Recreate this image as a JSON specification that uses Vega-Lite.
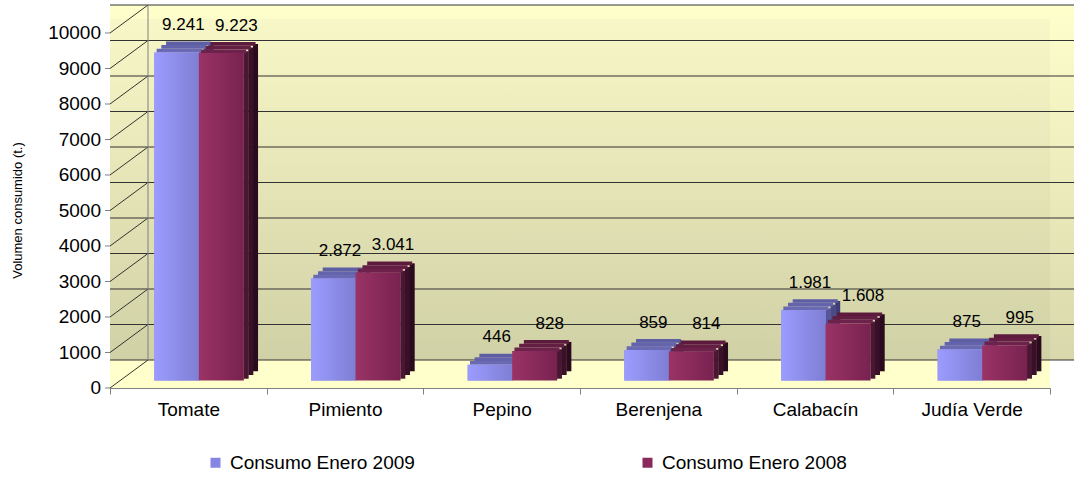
{
  "$schema": "https://vega.github.io/schema/vega-lite/v6.json",
  "width": 940,
  "height": 355,
  "autosize": {"type": "none"},
  "padding": {"left": 110, "top": 33, "right": 24, "bottom": 89},
  "background": "white",
  "config": {
    "view": {"stroke": null},
    "font": "Liberation Sans",
    "axisY": {
      "labels": false, "ticks": false, "grid": false,
      "domainColor": "#808080",
      "titleFontSize": 13, "titleFontWeight": "normal", "titleColor": "black",
      "titleX": -93, "titleY": 177, "titleAngle": -90,
      "titleAlign": "center", "titleBaseline": "middle"
    },
    "axisX": {
      "labelAngle": 0, "grid": false, "labelOverlap": false,
      "domainColor": "#808080", "tickColor": "#808080", "tickSize": 6, "tickBand": "extent",
      "labelFontSize": 19, "labelColor": "black", "labelPadding": 6
    }
  },
  "datasets": {
    "bars": [
      {"cat": "Tomate", "series": "Consumo Enero 2009", "value": 9241, "label": "9.241"},
      {"cat": "Tomate", "series": "Consumo Enero 2008", "value": 9223, "label": "9.223"},
      {"cat": "Pimiento", "series": "Consumo Enero 2009", "value": 2872, "label": "2.872"},
      {"cat": "Pimiento", "series": "Consumo Enero 2008", "value": 3041, "label": "3.041"},
      {"cat": "Pepino", "series": "Consumo Enero 2009", "value": 446, "label": "446"},
      {"cat": "Pepino", "series": "Consumo Enero 2008", "value": 828, "label": "828"},
      {"cat": "Berenjena", "series": "Consumo Enero 2009", "value": 859, "label": "859"},
      {"cat": "Berenjena", "series": "Consumo Enero 2008", "value": 814, "label": "814"},
      {"cat": "Calabacín", "series": "Consumo Enero 2009", "value": 1981, "label": "1.981"},
      {"cat": "Calabacín", "series": "Consumo Enero 2008", "value": 1608, "label": "1.608"},
      {"cat": "Judía Verde", "series": "Consumo Enero 2009", "value": 875, "label": "875"},
      {"cat": "Judía Verde", "series": "Consumo Enero 2008", "value": 995, "label": "995"}
    ],
    "grid": [
      {"v": 0}, {"v": 1000}, {"v": 2000}, {"v": 3000}, {"v": 4000}, {"v": 5000},
      {"v": 6000}, {"v": 7000}, {"v": 8000}, {"v": 9000}, {"v": 10000}
    ],
    "one": [{"k": 1}]
  },
  "data": {"name": "bars"},
  "layer": [
    {
      "data": {"name": "one"},
      "mark": {
        "type": "rect",
        "yOffset": -28, "y2Offset": -28, "xOffset": 38, "x2Offset": 60,
        "color": {"gradient": "linear", "x1": 0, "y1": 0, "x2": 0, "y2": 1,
          "stops": [{"offset": 0, "color": "#FFFFCC"}, {"offset": 1, "color": "#D8D8AC"}]}
      },
      "encoding": {
        "y": {"datum": 0, "type": "quantitative", "title": "Volumen consumido (t.)",
          "scale": {"domain": [0, 10000], "nice": false, "zero": true}},
        "y2": {"datum": 10000}
      }
    },
    {
      "data": {"name": "one"},
      "mark": {
        "type": "rect",
        "yOffset": -14, "y2Offset": -14, "x2Offset": -902,
        "color": {"gradient": "linear", "x1": 0, "y1": 0, "x2": 0, "y2": 1,
          "stops": [{"offset": 0, "color": "#F7F7C7"}, {"offset": 1, "color": "#CFCFA5"}]}
      },
      "encoding": {
        "y": {"datum": 10000, "type": "quantitative", "title": "Volumen consumido (t.)"},
        "y2": {"datum": 0}
      }
    },
    {
      "data": {"name": "one"},
      "mark": {"type": "rect", "y2Offset": -28, "x2Offset": 60, "color": "#FFFFCC"},
      "encoding": {
        "y": {"datum": 0, "type": "quantitative", "title": "Volumen consumido (t.)"},
        "y2": {"datum": 0}
      }
    },
    {
      "data": {"name": "grid"},
      "mark": {"type": "rule", "yOffset": -28, "xOffset": 38, "x2Offset": 60, "color": "#333333", "strokeWidth": 1},
      "encoding": {
        "y": {"field": "v", "type": "quantitative", "title": "Volumen consumido (t.)"}
      }
    },
    {
      "data": {"name": "grid"},
      "mark": {"type": "rule", "x2Offset": 38, "y2Offset": -28, "color": "#333333", "strokeWidth": 1},
      "encoding": {
        "x": {"datum": "Tomate", "type": "nominal", "bandPosition": 0},
        "x2": {"datum": "Tomate", "bandPosition": 0},
        "y": {"field": "v", "type": "quantitative", "title": "Volumen consumido (t.)"},
        "y2": {"field": "v"}
      }
    },
    {
      "data": {"name": "grid"},
      "mark": {"type": "rule", "x2Offset": -5, "color": "#808080", "strokeWidth": 1},
      "encoding": {
        "x": {"datum": "Tomate", "type": "nominal", "bandPosition": 0},
        "x2": {"datum": "Tomate", "bandPosition": 0},
        "y": {"field": "v", "type": "quantitative", "title": "Volumen consumido (t.)"},
        "y2": {"field": "v"}
      }
    },
    {
      "data": {"name": "grid"},
      "mark": {"type": "text", "xOffset": -9, "align": "right", "baseline": "middle", "fontSize": 19, "color": "black"},
      "encoding": {
        "x": {"datum": "Tomate", "type": "nominal", "bandPosition": 0},
        "y": {"field": "v", "type": "quantitative", "title": "Volumen consumido (t.)"},
        "text": {"field": "v", "type": "quantitative", "format": "d"}
      }
    },
    {
      "data": {"name": "one"},
      "mark": {"type": "rule", "xOffset": 38, "yOffset": -28, "y2Offset": -28, "color": "#808080", "strokeWidth": 1},
      "encoding": {
        "x": {"datum": "Tomate", "type": "nominal", "bandPosition": 0},
        "y": {"datum": 0, "type": "quantitative", "title": "Volumen consumido (t.)"},
        "y2": {"datum": 10000}
      }
    },
    {
      "transform": [{"filter": "datum.series === 'Consumo Enero 2009'"}],
      "mark": {"type": "bar", "width": 5, "xOffset": 13.3, "yOffset": -9.3, "y2Offset": -9.3, "color": "#55559A"},
      "encoding": {
        "x": {"field": "cat", "type": "nominal", "sort": null},
        "y": {"field": "value", "type": "quantitative", "title": "Volumen consumido (t.)"}
      }
    },
    {
      "transform": [{"filter": "datum.series === 'Consumo Enero 2009'"}],
      "mark": {"type": "bar", "width": 5, "xOffset": 18, "yOffset": -13, "y2Offset": -13, "color": "#4A4A88"},
      "encoding": {
        "x": {"field": "cat", "type": "nominal", "sort": null},
        "y": {"field": "value", "type": "quantitative", "title": "Volumen consumido (t.)"}
      }
    },
    {
      "transform": [{"filter": "datum.series === 'Consumo Enero 2009'"}],
      "mark": {"type": "bar", "width": 5, "xOffset": 22.7, "yOffset": -16.7, "y2Offset": -16.7, "color": "#3F3F78"},
      "encoding": {
        "x": {"field": "cat", "type": "nominal", "sort": null},
        "y": {"field": "value", "type": "quantitative", "title": "Volumen consumido (t.)"}
      }
    },
    {
      "transform": [{"filter": "datum.series === 'Consumo Enero 2009'"}],
      "mark": {"type": "bar", "width": 45, "xOffset": 0.2, "yOffset": -18.5, "y2Offset": -14.8, "color": "#5E5EA4"},
      "encoding": {
        "x": {"field": "cat", "type": "nominal", "sort": null},
        "y": {"field": "value", "type": "quantitative", "title": "Volumen consumido (t.)"},
        "y2": {"field": "value"}
      }
    },
    {
      "transform": [{"filter": "datum.series === 'Consumo Enero 2009'"}],
      "mark": {"type": "bar", "width": 45, "xOffset": -4.5, "yOffset": -14.9, "y2Offset": -11.1, "color": "#6464AC"},
      "encoding": {
        "x": {"field": "cat", "type": "nominal", "sort": null},
        "y": {"field": "value", "type": "quantitative", "title": "Volumen consumido (t.)"},
        "y2": {"field": "value"}
      }
    },
    {
      "transform": [{"filter": "datum.series === 'Consumo Enero 2009'"}],
      "mark": {"type": "bar", "width": 45, "xOffset": -9.2, "yOffset": -11.2, "y2Offset": -7.4, "color": "#6A6AB4"},
      "encoding": {
        "x": {"field": "cat", "type": "nominal", "sort": null},
        "y": {"field": "value", "type": "quantitative", "title": "Volumen consumido (t.)"},
        "y2": {"field": "value"}
      }
    },
    {
      "transform": [{"filter": "datum.series === 'Consumo Enero 2009'"}],
      "mark": {"type": "bar", "width": 45, "xOffset": -11.5, "yOffset": -7.5, "y2Offset": -7.5},
      "encoding": {
        "x": {"field": "cat", "type": "nominal", "sort": null,
          "scale": {"domain": ["Tomate", "Pimiento", "Pepino", "Berenjena", "Calabacín", "Judía Verde"], "paddingInner": 0, "paddingOuter": 0},
          "title": null,
          "axis": {"bandPosition": 0.5, "labelAlign": "center"}
        },
        "y": {"field": "value", "type": "quantitative", "title": "Volumen consumido (t.)"},
        "color": {"field": "series", "type": "nominal",
          "scale": {"domain": ["Consumo Enero 2009", "Consumo Enero 2008"], "range": ["#8585E4", "#8A2A5C"]},
          "legend": {
            "title": null, "orient": "none", "legendX": 96, "legendY": 420,
            "direction": "horizontal", "symbolType": "square", "symbolSize": 100,
            "symbolStrokeWidth": 0, "labelFontSize": 19, "labelColor": "black",
            "labelOffset": 5, "columnPadding": 223, "labelLimit": 400
          }
        }
      }
    },
    {
      "transform": [{"filter": "datum.series === 'Consumo Enero 2009'"}],
      "mark": {"type": "bar", "width": 45, "xOffset": -11.5, "yOffset": -7.5, "y2Offset": -7.5,
        "color": {"gradient": "linear", "x1": 0, "y1": 0, "x2": 1, "y2": 0,
          "stops": [{"offset": 0, "color": "#9C9CFF"}, {"offset": 1, "color": "#7E7ED4"}]}},
      "encoding": {
        "x": {"field": "cat", "type": "nominal", "sort": null},
        "y": {"field": "value", "type": "quantitative", "title": "Volumen consumido (t.)"}
      }
    },
    {
      "transform": [{"filter": "datum.series === 'Consumo Enero 2008'"}],
      "mark": {"type": "bar", "width": 5, "xOffset": 57.8, "yOffset": -9.3, "y2Offset": -9.3, "color": "#4A1733"},
      "encoding": {
        "x": {"field": "cat", "type": "nominal", "sort": null},
        "y": {"field": "value", "type": "quantitative", "title": "Volumen consumido (t.)"}
      }
    },
    {
      "transform": [{"filter": "datum.series === 'Consumo Enero 2008'"}],
      "mark": {"type": "bar", "width": 5, "xOffset": 62.5, "yOffset": -13, "y2Offset": -13, "color": "#3A1028"},
      "encoding": {
        "x": {"field": "cat", "type": "nominal", "sort": null},
        "y": {"field": "value", "type": "quantitative", "title": "Volumen consumido (t.)"}
      }
    },
    {
      "transform": [{"filter": "datum.series === 'Consumo Enero 2008'"}],
      "mark": {"type": "bar", "width": 5, "xOffset": 67.2, "yOffset": -16.7, "y2Offset": -16.7, "color": "#2A0A1C"},
      "encoding": {
        "x": {"field": "cat", "type": "nominal", "sort": null},
        "y": {"field": "value", "type": "quantitative", "title": "Volumen consumido (t.)"}
      }
    },
    {
      "transform": [{"filter": "datum.series === 'Consumo Enero 2008'"}],
      "mark": {"type": "bar", "width": 45, "xOffset": 44.7, "yOffset": -18.5, "y2Offset": -14.8, "color": "#5C1A3C"},
      "encoding": {
        "x": {"field": "cat", "type": "nominal", "sort": null},
        "y": {"field": "value", "type": "quantitative", "title": "Volumen consumido (t.)"},
        "y2": {"field": "value"}
      }
    },
    {
      "transform": [{"filter": "datum.series === 'Consumo Enero 2008'"}],
      "mark": {"type": "bar", "width": 45, "xOffset": 40, "yOffset": -14.9, "y2Offset": -11.1, "color": "#641E44"},
      "encoding": {
        "x": {"field": "cat", "type": "nominal", "sort": null},
        "y": {"field": "value", "type": "quantitative", "title": "Volumen consumido (t.)"},
        "y2": {"field": "value"}
      }
    },
    {
      "transform": [{"filter": "datum.series === 'Consumo Enero 2008'"}],
      "mark": {"type": "bar", "width": 45, "xOffset": 35.3, "yOffset": -11.2, "y2Offset": -7.4, "color": "#6C224A"},
      "encoding": {
        "x": {"field": "cat", "type": "nominal", "sort": null},
        "y": {"field": "value", "type": "quantitative", "title": "Volumen consumido (t.)"},
        "y2": {"field": "value"}
      }
    },
    {
      "transform": [{"filter": "datum.series === 'Consumo Enero 2008'"}],
      "mark": {"type": "bar", "width": 45, "xOffset": 33, "yOffset": -7.5, "y2Offset": -7.5,
        "color": {"gradient": "linear", "x1": 0, "y1": 0, "x2": 1, "y2": 0,
          "stops": [{"offset": 0, "color": "#9A3366"}, {"offset": 1, "color": "#782250"}]}},
      "encoding": {
        "x": {"field": "cat", "type": "nominal", "sort": null},
        "y": {"field": "value", "type": "quantitative", "title": "Volumen consumido (t.)"}
      }
    },
    {
      "transform": [{"filter": "datum.series === 'Consumo Enero 2009'"}],
      "mark": {"type": "text", "fontSize": 17, "color": "black", "xOffset": -5, "yOffset": -35, "baseline": "middle"},
      "encoding": {
        "x": {"field": "cat", "type": "nominal", "sort": null},
        "y": {"field": "value", "type": "quantitative", "title": "Volumen consumido (t.)"},
        "text": {"field": "label"}
      }
    },
    {
      "transform": [{"filter": "datum.series === 'Consumo Enero 2008'"}],
      "mark": {"type": "text", "fontSize": 17, "color": "black", "xOffset": 48, "yOffset": -35, "baseline": "middle"},
      "encoding": {
        "x": {"field": "cat", "type": "nominal", "sort": null},
        "y": {"field": "value", "type": "quantitative", "title": "Volumen consumido (t.)"},
        "text": {"field": "label"}
      }
    }
  ]
}
